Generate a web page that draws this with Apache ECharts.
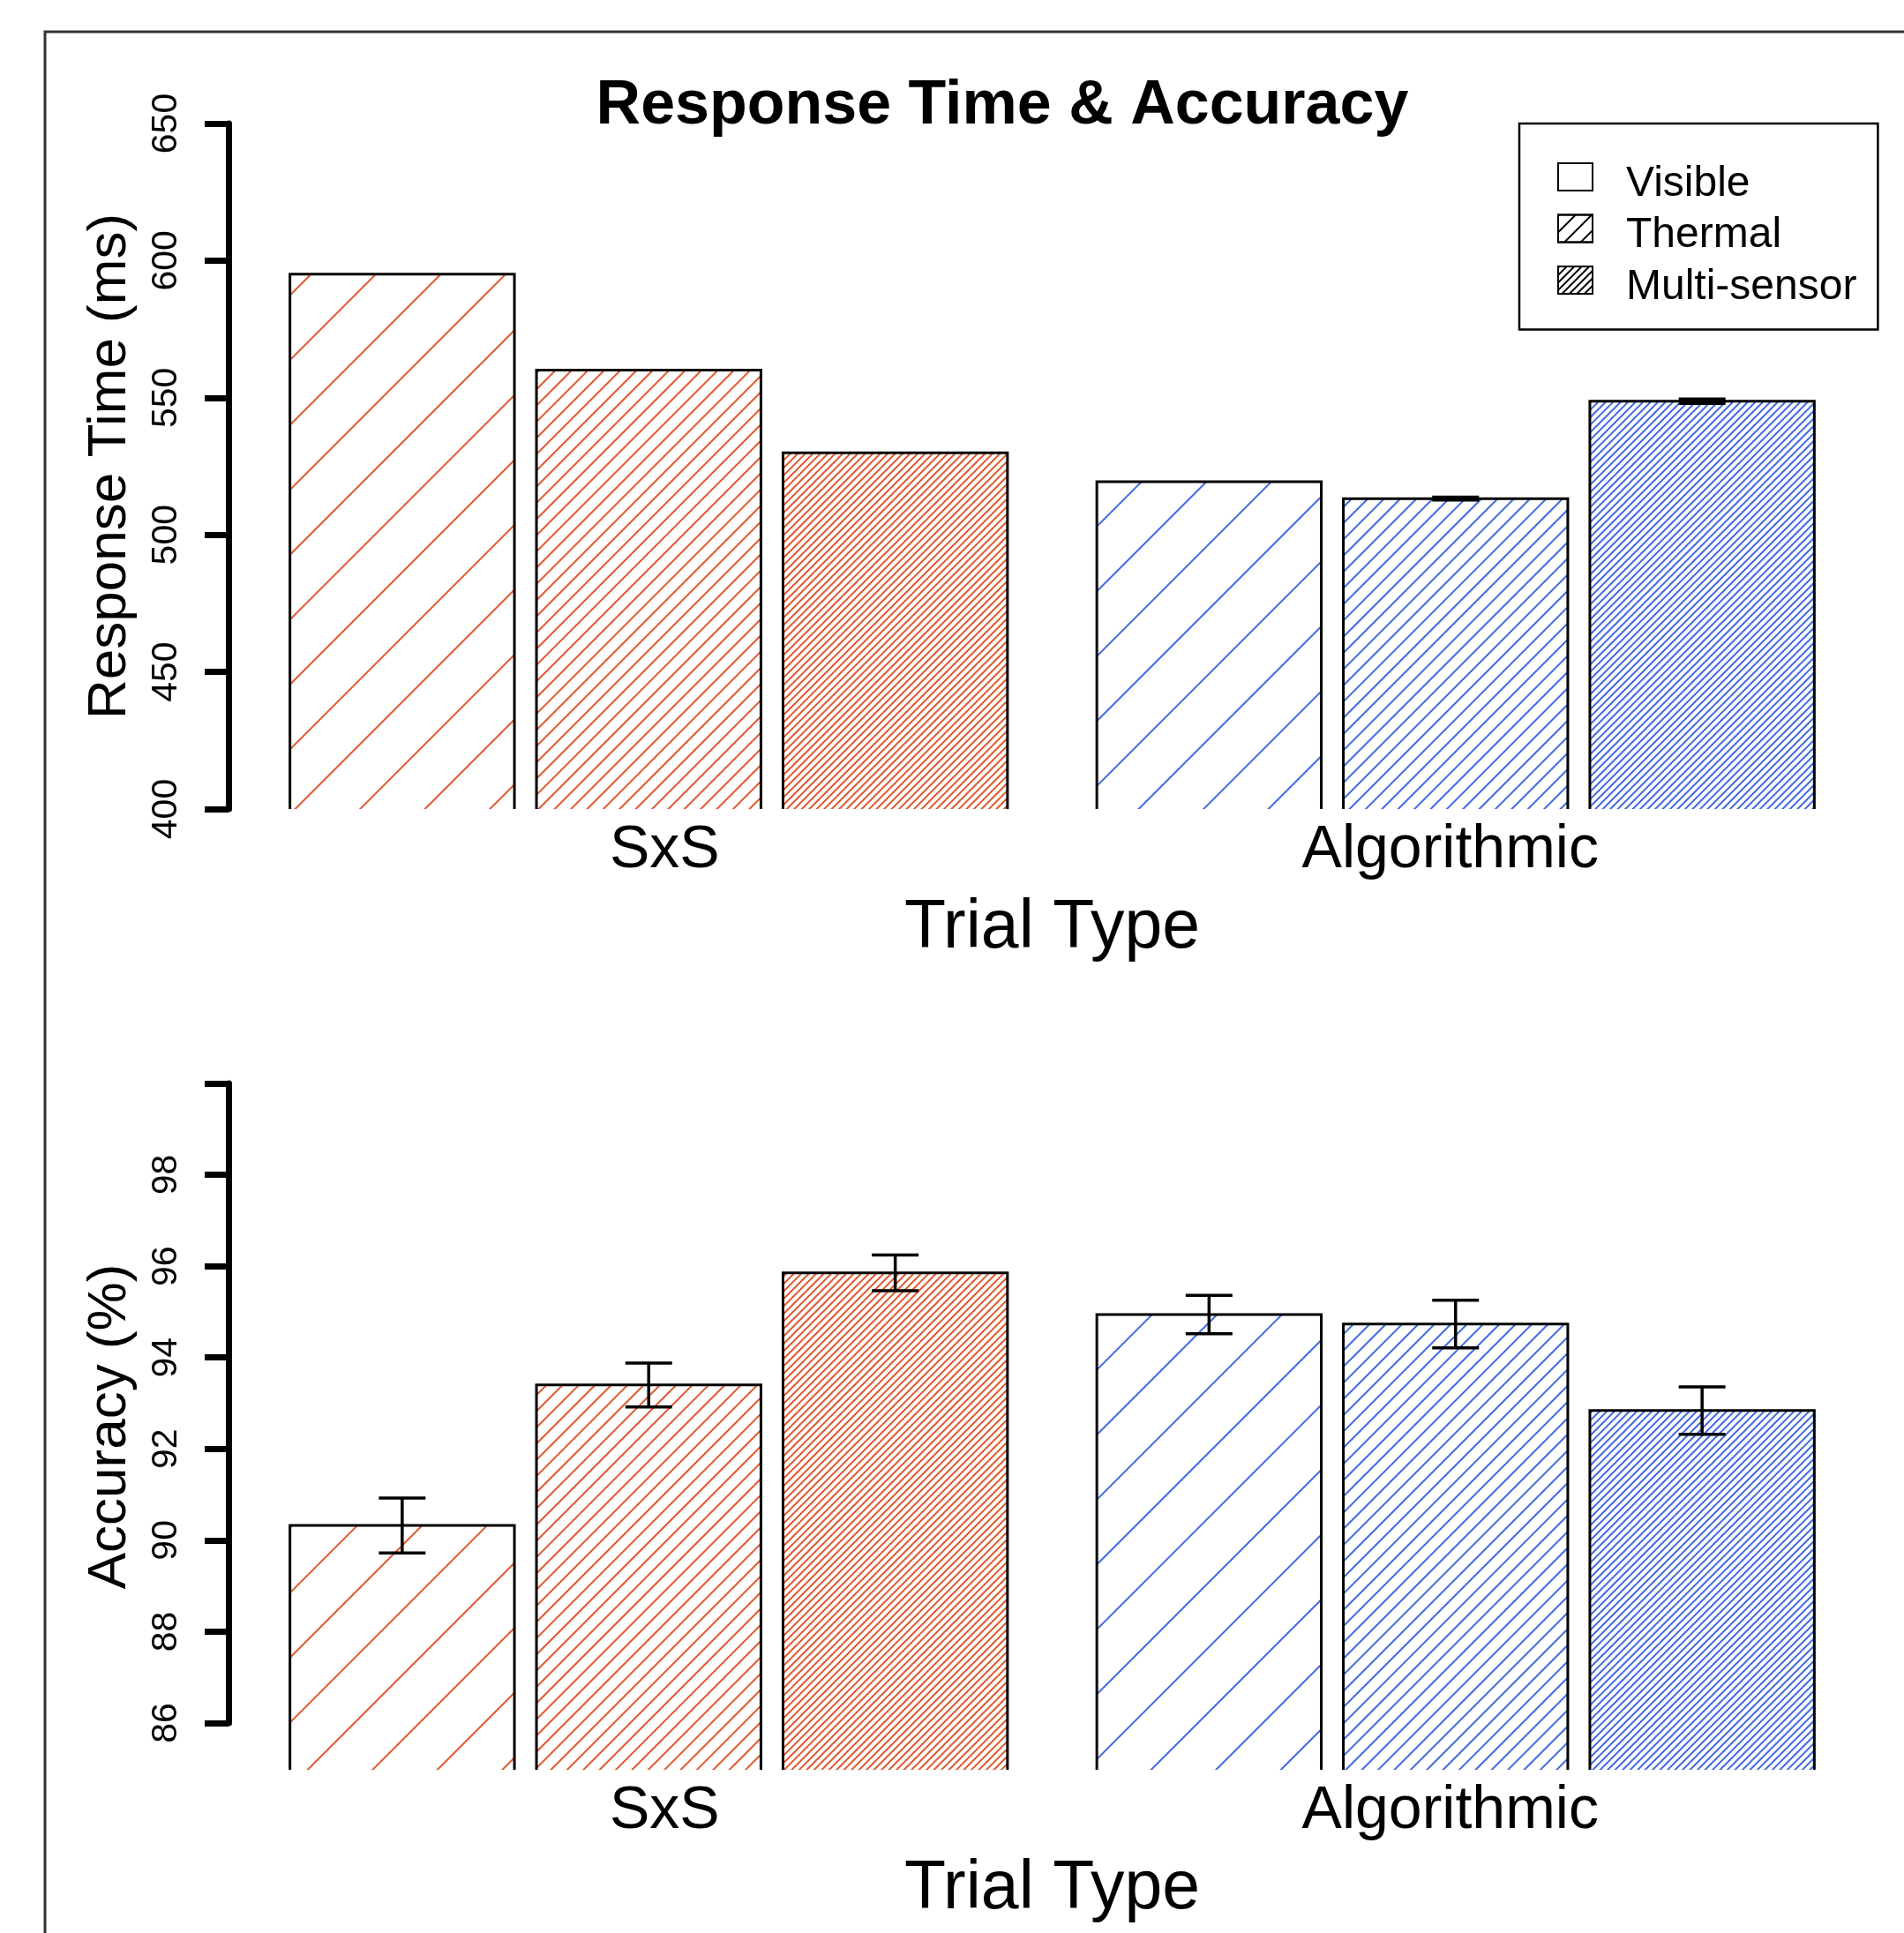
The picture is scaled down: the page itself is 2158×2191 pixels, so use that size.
<!DOCTYPE html>
<html>
<head>
<meta charset="utf-8">
<title>Response Time &amp; Accuracy</title>
<script src="https://cdn.jsdelivr.net/npm/echarts@6/dist/echarts.min.js"></script>
<style>
    html, body { margin: 0; padding: 0; background: #fff; }
    #chart { width: 2158px; height: 2191px; }
</style>
</head>
<body>
<div id="chart"></div>
<script>
// categories
var trialTypes = ['SxS', 'Algorithmic'];
var sensors = ['Visible', 'Thermal', 'Multi-sensor'];

// response time (ms), one value per trial type [SxS, Algorithmic]
var rtVisible = [595.1, 519.4];
var rtThermal = [560.1, 513.2];
var rtMulti = [529.9, 548.7];
var rtErrVisible = [0, 0];
var rtErrThermal = [0, 0.5];
var rtErrMulti = [0, 0.8];

// accuracy (%)
var accVisible = [90.34, 94.95];
var accThermal = [93.41, 94.74];
var accMulti = [95.86, 92.85];
var accErrVisible = [0.6, 0.42];
var accErrThermal = [0.48, 0.52];
var accErrMulti = [0.39, 0.52];

// axis ranges: [min, max, step]
var rtTicks = [400, 650, 50];
var accTicks = [86, 100, 2];
var accFloor = 85;

// look
var FONT = 'Liberation Sans, Arial, sans-serif';
var groupColors = ['#E0582E', '#4169E1'];   // SxS, Algorithmic hatch colour
var hatchGap = [50, 11, 4];                 // Visible, Thermal, Multi-sensor
var BAR_W = 254.4;
var BAR_GAP = 25;
var CAP_W = 53;

// pick a narrow font for the tick numbers if there is one
function fontAvailable(name) {
    var ctx = document.createElement('canvas').getContext('2d');
    ctx.font = '50px monospace';
    var base = ctx.measureText('0123456789').width;
    ctx.font = '50px "' + name + '", monospace';
    return ctx.measureText('0123456789').width !== base;
}
var narrow = fontAvailable('Liberation Sans Narrow');
var tickFont = narrow ? '"Liberation Sans Narrow", sans-serif' : FONT;
var tickSize = narrow ? 48 : 41;

function hatch(k, color) {
    return {
        symbol: 'rect',
        symbolSize: 1,
        symbolKeepAspect: false,
        dashArrayX: [1, 0],
        dashArrayY: [2, hatchGap[k]],
        rotation: -Math.PI / 4,
        color: color
    };
}

function barData(values, k) {
    return values.map(function (v, i) {
        return { value: v, itemStyle: { decal: hatch(k, groupColors[i]) } };
    });
}

// [category, sensor, value, error] for outlines and error bars
function frameData(lists, errs) {
    var out = [];
    for (var k = 0; k < lists.length; k++) {
        for (var i = 0; i < lists[k].length; i++) {
            out.push([i, k, lists[k][i], errs[k][i]]);
        }
    }
    return out;
}

function frameItem(floorValue) {
    return function (params, api) {
        var cat = api.value(0), k = api.value(1), val = api.value(2), err = api.value(3);
        var top = api.coord([cat, val]);
        var base = api.coord([cat, floorValue])[1];
        var x = top[0] + (k - 1) * (BAR_W + BAR_GAP);
        var xl = x - BAR_W / 2, xr = x + BAR_W / 2;
        var line = { stroke: '#000', lineWidth: 3, fill: null };
        var kids = [{
            type: 'polyline',
            shape: { points: [[xl, base], [xl, top[1]], [xr, top[1]], [xr, base]] },
            style: line
        }];
        if (err > 0) {
            var hi = api.coord([cat, val + err])[1];
            var lo = api.coord([cat, val - err])[1];
            var eb = { stroke: '#000', lineWidth: 3.5 };
            kids.push({ type: 'line', shape: { x1: x, y1: hi, x2: x, y2: lo }, style: eb });
            kids.push({ type: 'line', shape: { x1: x - CAP_W / 2, y1: hi, x2: x + CAP_W / 2, y2: hi }, style: eb });
            kids.push({ type: 'line', shape: { x1: x - CAP_W / 2, y1: lo, x2: x + CAP_W / 2, y2: lo }, style: eb });
        }
        return { type: 'group', children: kids };
    };
}

function catAxis(gridIndex, show) {
    return {
        type: 'category',
        gridIndex: gridIndex,
        data: trialTypes,
        show: show,
        axisLine: { show: false },
        axisTick: { show: false },
        axisLabel: {
            margin: 13,
            formatter: function (v) { return '{' + (v === 'SxS' ? 'a' : 'b') + '|' + v + '}'; },
            rich: {
                a: { fontSize: 68, fontFamily: FONT, color: '#000', padding: [0, 0, 0, 36] },
                b: { fontSize: 68, fontFamily: FONT, color: '#000', padding: [0, 12, 0, 0] }
            }
        },
        name: 'Trial Type',
        nameLocation: 'middle',
        nameGap: 97,
        nameTextStyle: { fontSize: 77, fontFamily: FONT, color: '#000' }
    };
}

function tickAxis(gridIndex, ticks, hideTop) {
    return {
        type: 'value',
        gridIndex: gridIndex,
        min: ticks[0],
        max: ticks[1],
        interval: ticks[2],
        offset: 19,
        axisLine: { show: true, lineStyle: { color: '#000', width: 7 } },
        axisTick: { show: true, length: 27, lineStyle: { color: '#000', width: 7 } },
        axisLabel: {
            rotate: 90,
            margin: 50,
            fontSize: tickSize,
            fontFamily: tickFont,
            color: '#000',
            formatter: function (v) { return (hideTop && v === ticks[1]) ? '' : String(v); }
        },
        splitLine: { show: false }
    };
}

var chart = echarts.init(document.getElementById('chart'));

var rtAxis = tickAxis(0, rtTicks, false);
rtAxis.name = 'Response Time (ms)';
rtAxis.nameLocation = 'middle';
rtAxis.nameGap = 103;
rtAxis.nameTextStyle = { fontSize: 62, fontFamily: FONT, color: '#000' };

var option = {
    backgroundColor: '#fff',
    animation: false,
    title: {
        text: 'Response Time & Accuracy',
        left: 1136,
        top: 86,
        padding: 0,
        textAlign: 'center',
        textStyle: { fontSize: 70, fontWeight: 'bold', fontFamily: FONT, color: '#000' }
    },
    legend: {
        orient: 'vertical',
        left: 1722,
        top: 140,
        padding: [44, 24, 24, 43],
        itemWidth: 39,
        itemHeight: 31,
        itemGap: 10,
        icon: 'rect',
        borderColor: '#000',
        borderWidth: 2.5,
        backgroundColor: '#fff',
        selectedMode: false,
        itemStyle: { borderColor: '#000', borderWidth: 2 },
        formatter: '{t|{name}}',
        textStyle: {
            fontSize: 48, fontFamily: FONT, color: '#000',
            rich: { t: { fontSize: 48, fontFamily: FONT, color: '#000', padding: [16, 0, 0, 33] } }
        },
        data: [
            { name: 'Visible', itemStyle: { decal: { color: 'rgba(0,0,0,0)' } } },
            'Thermal',
            'Multi-sensor'
        ]
    },
    graphic: [{
        type: 'rect',
        silent: true,
        z: -10,
        shape: { x: 51, y: 36, width: 2400, height: 2400 },
        style: { fill: null, stroke: '#333', lineWidth: 3 }
    }],
    grid: [
        { left: 278, right: 51, top: 140, height: 777, outerBoundsMode: 'none' },
        { left: 278, right: 51, top: 1228, height: 778, outerBoundsMode: 'none' },
        { left: 278, right: 51, top: 1228, height: 725, outerBoundsMode: 'none' }
    ],
    xAxis: [catAxis(0, true), catAxis(1, true), catAxis(2, false)],
    yAxis: [
        rtAxis,
        {
            type: 'value',
            gridIndex: 1,
            min: accFloor,
            max: accTicks[1],
            offset: 19,
            axisLine: { show: false },
            axisTick: { show: false },
            axisLabel: { show: false },
            splitLine: { show: false },
            name: 'Accuracy (%)',
            nameLocation: 'middle',
            nameGap: 103,
            nameTextStyle: { fontSize: 62, fontFamily: FONT, color: '#000' }
        },
        tickAxis(2, accTicks, true)
    ],
    series: []
};

var rtLists = [rtVisible, rtThermal, rtMulti];
var accLists = [accVisible, accThermal, accMulti];

sensors.forEach(function (name, k) {
    var common = {
        name: name,
        type: 'bar',
        barWidth: BAR_W,
        barGap: (BAR_GAP / BAR_W * 100).toFixed(1) + '%',
        itemStyle: { color: '#fff', borderWidth: 0, decal: hatch(k, '#000') }
    };
    option.series.push(Object.assign({}, common, { xAxisIndex: 0, yAxisIndex: 0, data: barData(rtLists[k], k) }));
    option.series.push(Object.assign({}, common, { xAxisIndex: 1, yAxisIndex: 1, data: barData(accLists[k], k) }));
});

option.series.push({
    type: 'custom',
    xAxisIndex: 0,
    yAxisIndex: 0,
    z: 5,
    renderItem: frameItem(rtTicks[0]),
    encode: { x: 0, y: 2 },
    data: frameData(rtLists, [rtErrVisible, rtErrThermal, rtErrMulti])
});
option.series.push({
    type: 'custom',
    xAxisIndex: 1,
    yAxisIndex: 1,
    z: 5,
    renderItem: frameItem(accFloor),
    encode: { x: 0, y: 2 },
    data: frameData(accLists, [accErrVisible, accErrThermal, accErrMulti])
});

chart.setOption(option);
</script>
</body>
</html>
